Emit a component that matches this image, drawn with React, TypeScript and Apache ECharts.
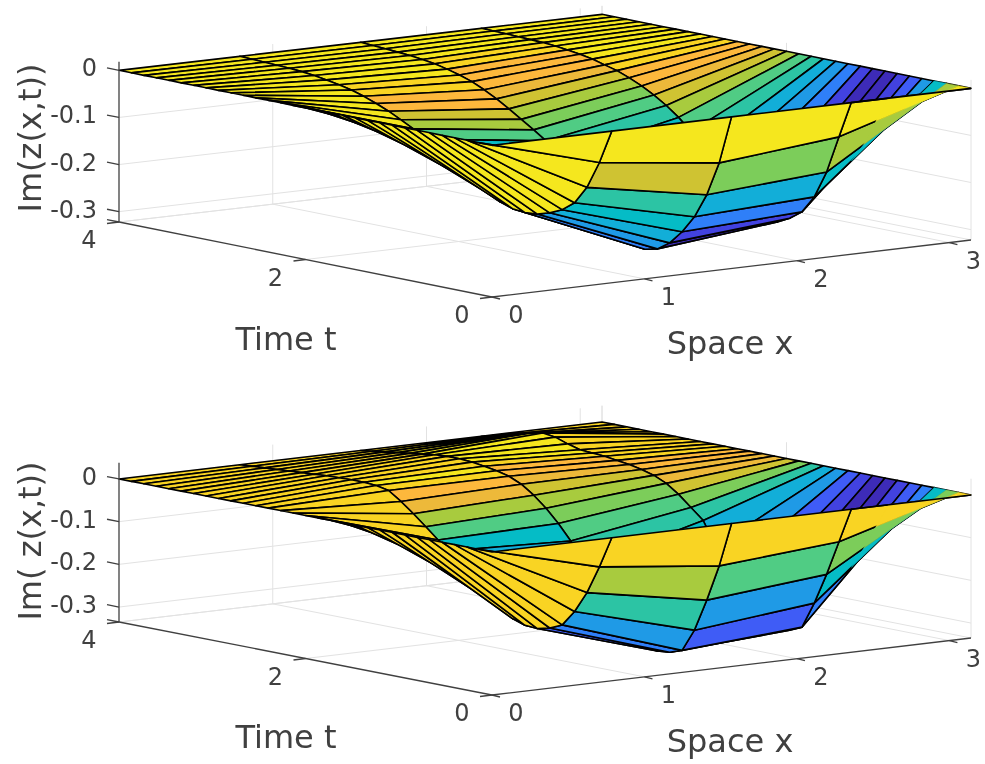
import React, { useEffect, useRef } from "react";
import * as echarts from "echarts";

const PI = Math.PI;
const xNodes = [0, PI / 4, PI / 2, (3 * PI) / 4, PI];
const tNodes = [0, 0.133, 0.267, 0.4, 0.533, 0.667, 0.8, 0.933, 1.067, 1.2, 1.333, 1.467, 1.6, 1.733, 1.867, 2, 2.133, 2.267, 2.4, 2.533, 2.667, 2.8, 2.933, 3.067, 3.2, 3.333, 3.467, 3.6, 3.733, 3.867, 4];
const xTicks = [0, 1, 2, 3];
const tTicks = [0, 2, 4];
const zTicks = [0, -0.1, -0.2, -0.3];
const zeroRow = [0, 0, 0, 0, 0, 0, 0, 0, 0, 0, 0, 0, 0, 0, 0, 0, 0, 0, 0, 0, 0, 0, 0, 0, 0, 0, 0, 0, 0, 0, 0];

const zTop = [
  zeroRow,
  [0, -.072, -.13, -.168, -.188, -.2, -.208, -.21, -.207, -.198, -.185, -.17, -.152, -.133, -.115, -.097, -.08, -.066, -.053, -.042, -.032, -.024, -.018, -.013, -.009, -.006, -.004, -.003, -.002, -.001, 0],
  [0, -.103, -.176, -.228, -.265, -.294, -.312, -.318, -.315, -.305, -.285, -.26, -.23, -.195, -.16, -.13, -.112, -.095, -.078, -.062, -.048, -.036, -.027, -.02, -.014, -.01, -.007, -.005, -.003, -.0015, 0],
  [0, -.078, -.158, -.216, -.253, -.272, -.285, -.283, -.27, -.25, -.22, -.19, -.16, -.13, -.105, -.085, -.068, -.054, -.042, -.032, -.025, -.018, -.013, -.009, -.006, -.004, -.003, -.002, -.001, -.0005, 0],
  zeroRow,
];

const zBottom = [
  zeroRow,
  [0, -.074, -.14, -.19, -.227, -.24, -.247, -.245, -.235, -.215, -.19, -.16, -.13, -.105, -.085, -.06, -.035, -.012, .008, .014, .016, .016, .015, .014, .012, .01, .008, .006, .004, .002, 0],
  [0, -.105, -.191, -.267, -.32, -.33, -.333, -.33, -.32, -.3, -.265, -.225, -.17, -.115, -.08, -.05, -.025, -.005, .008, .015, .02, .024, .026, .026, .024, .02, .016, .012, .008, .004, 0],
  [0, -.082, -.164, -.237, -.299, -.312, -.318, -.31, -.29, -.25, -.2, -.15, -.095, -.07, -.045, -.025, -.012, -.004, .002, .006, .01, .012, .014, .022, .032, .036, .03, .022, .014, .007, 0],
  zeroRow,
];

const parula = ["#3d2bb8", "#4242e0", "#3f5cf6", "#2f7ff8", "#1f9ae6", "#12aed8", "#05bcc6", "#2cc4a4", "#50cc84", "#7ccd5a", "#a8cb3e", "#cfc332", "#edb93a", "#fdb83c", "#f9d423", "#f5e71e"];

const fineTop = [15, 15, 15, 15, 15, 15, 15, 15, 15, 15, 15, 15, 15, 15, 15, 15, 15, 15, 15, 15, 15, 15, 15, 15, 15, 15, 15, 15, 15, 15];
const stripATop = [15, 11, 7, 6, 5, 4, 3, 2, 2, 3, 3, 4, 5, 5, 6, 8, 10, 11, 13, 13, 14, 14, 15, 15, 15, 15, 15, 15, 15, 15];
const stripBTop = [15, 9, 5, 3, 1, 0, 0, 1, 2, 3, 4, 5, 5, 6, 7, 8, 9, 10, 11, 12, 13, 13, 13, 14, 14, 15, 15, 15, 15, 15];
const stripCTop = [15, 10, 6, 4, 2, 1, 0, 0, 1, 3, 4, 5, 7, 8, 10, 11, 12, 13, 13, 14, 14, 15, 15, 15, 15, 15, 15, 15, 15, 15];
const fineBottom = [14, 14, 14, 14, 14, 14, 14, 14, 14, 14, 14, 14, 14, 14, 14, 14, 14, 14, 14, 14, 14, 14, 14, 14, 14, 14, 14, 14, 14, 14];
const stripABottom = [14, 10, 7, 4, 3, 2, 2, 3, 3, 4, 4, 5, 5, 6, 8, 10, 12, 13, 14, 15, 14, 14, 14, 14, 14, 14, 14, 14, 14, 14];
const stripBBottom = [14, 8, 4, 2, 1, 0, 0, 1, 2, 3, 5, 6, 7, 8, 9, 10, 11, 12, 13, 13, 14, 15, 15, 15, 15, 15, 15, 15, 15, 14];
const stripCBottom = [14, 9, 6, 3, 2, 1, 0, 0, 1, 2, 4, 5, 7, 9, 11, 12, 12, 13, 13, 14, 14, 14, 14, 14, 14, 14, 14, 14, 14, 14];

const AXIS = "#404040";
const GRID = "#e2e2e2";
const FONT = '"DejaVu Sans", sans-serif';
const MESH_WIDTH = 1.6;
const WEDGE_START = 0.31;
const WEDGE_ROWS = 3;

type Panel = {
  a: number[]; b: number[]; c: number[]; d: number[];
  zMin: number; zMax: number; scale: number;
  z: number[][]; strips: number[][];
  zLabel: string; dy: number;
};

const panels: Panel[] = [
  { a: [492, 297], b: [971, 240], c: [119, 222], d: [602, 166], zMin: -0.322, zMax: 0.018, scale: 471, z: zTop, strips: [fineTop, stripATop, stripBTop, stripCTop], zLabel: "Im(z(x,t))", dy: 0 },
  { a: [492, 695], b: [971, 638], c: [119, 622], d: [602, 565], zMin: -0.335, zMax: 0.038, scale: 427, z: zBottom, strips: [fineBottom, stripABottom, stripBBottom, stripCBottom], zLabel: "Im( z(x,t))", dy: 398 },
];

const X_MAX = PI;
const T_MAX = 4;

function project(p: Panel, x: number, t: number, z: number) {
  const u = x / X_MAX;
  const v = t / T_MAX;
  const px = (1 - u) * (1 - v) * p.a[0] + u * (1 - v) * p.b[0] + (1 - u) * v * p.c[0] + u * v * p.d[0];
  const py = (1 - u) * (1 - v) * p.a[1] + u * (1 - v) * p.b[1] + (1 - u) * v * p.c[1] + u * v * p.d[1];
  return [px, py - (z - p.zMin) * p.scale];
}

type Seg = { from: number[]; to: number[]; color: string; width: number; offset?: number[] };

function gridSegments(p: Panel): Seg[] {
  const s: Seg[] = [];
  const add = (from: number[], to: number[]) => s.push({ from, to, color: GRID, width: 1 });
  for (const x of xTicks.slice(1)) {
    add([x, 0, p.zMin], [x, T_MAX, p.zMin]);
    add([x, T_MAX, p.zMin], [x, T_MAX, p.zMax]);
  }
  for (const t of tTicks.slice(1)) {
    add([0, t, p.zMin], [X_MAX, t, p.zMin]);
    add([X_MAX, t, p.zMin], [X_MAX, t, p.zMax]);
  }
  add([X_MAX, 0, p.zMin], [X_MAX, 0, p.zMax]);
  add([X_MAX, T_MAX, p.zMin], [X_MAX, T_MAX, p.zMax]);
  add([0, T_MAX, p.zMin], [X_MAX, T_MAX, p.zMin]);
  add([X_MAX, T_MAX, p.zMin], [X_MAX, 0, p.zMin]);
  for (const z of zTicks) {
    add([0, T_MAX, z], [X_MAX, T_MAX, z]);
    add([X_MAX, T_MAX, z], [X_MAX, 0, z]);
  }
  return s;
}

function axisSegments(p: Panel): Seg[] {
  const s: Seg[] = [];
  const add = (from: number[], to: number[], offset?: number[]) => s.push({ from, to, color: AXIS, width: 1.3, offset });
  add([0, 0, p.zMin], [X_MAX, 0, p.zMin]);
  add([0, 0, p.zMin], [0, T_MAX, p.zMin]);
  add([0, T_MAX, p.zMin], [0, T_MAX, p.zMax]);
  for (const x of xTicks) add([x, 0, p.zMin], [x, 0, p.zMin], [8, 2]);
  for (const t of tTicks) add([0, t, p.zMin], [0, t, p.zMin], [-12, 1.5]);
  for (const z of zTicks) add([0, T_MAX, z], [0, T_MAX, z], [-12, -2.4]);
  add([0, T_MAX, p.zMin], [0, T_MAX, p.zMin], [-12, -2.4]);
  return s;
}

type Label = { text: string; pos: number[]; size: number; align: "center" | "right"; rotate?: boolean };

function labels(p: Panel): Label[] {
  const out: Label[] = [];
  for (const x of xTicks) {
    const q = project(p, x, 0, p.zMin);
    out.push({ text: String(x), pos: [q[0] + 24, q[1] + 18], size: 24, align: "center" });
  }
  for (const t of tTicks) {
    const q = project(p, 0, t, p.zMin);
    out.push({ text: String(t), pos: [q[0] - 30, q[1] + 18], size: 24, align: "center" });
  }
  for (const z of zTicks) {
    const q = project(p, 0, T_MAX, z);
    out.push({ text: String(z), pos: [q[0] - 22, q[1] - 2], size: 24, align: "right" });
  }
  out.push({ text: "Time t", pos: [286, 339 + p.dy], size: 32, align: "center" });
  out.push({ text: "Space x", pos: [730, 343 + p.dy], size: 32, align: "center" });
  out.push({ text: p.zLabel, pos: [30, 138 + p.dy + (p.dy ? 5 : 0)], size: 32, align: "center", rotate: true });
  return out;
}

function surfaceCells() {
  const cells: number[][] = [];
  for (let i = xNodes.length - 2; i >= 0; i--) {
    for (let j = tNodes.length - 2; j >= 0; j--) cells.push([i, j]);
  }
  return cells;
}

function surfaceSeries(p: Panel) {
  return {
    type: "custom",
    coordinateSystem: "cartesian2d",
    silent: true,
    clip: false,
    progressive: 0,
    z: 3,
    encode: { x: 0, y: 1 },
    data: surfaceCells(),
    renderItem: (_: any, api: any) => {
      const i = api.value(0);
      const j = api.value(1);
      const corners = [[i, j], [i + 1, j], [i + 1, j + 1], [i, j + 1]];
      const points = corners.map(([a, b]) => api.coord(project(p, xNodes[a], tNodes[b], p.z[a][b])));
      return {
        type: "polygon",
        shape: { points },
        style: { fill: parula[p.strips[i][j]], stroke: "#000", lineWidth: MESH_WIDTH, lineJoin: "round" },
      };
    },
  };
}

// The lower rows of the last strip show their fill right up to the corner, with no mesh line.
function wedgeSeries(p: Panel) {
  const last = xNodes.length - 1;
  const along = (j: number, f: number) => {
    const a = project(p, xNodes[last - 1], tNodes[j], p.z[last - 1][j]);
    const b = project(p, xNodes[last], tNodes[j], p.z[last][j]);
    return [a[0] + (b[0] - a[0]) * f, a[1] + (b[1] - a[1]) * f];
  };
  const rows: number[][] = [];
  for (let j = WEDGE_ROWS - 1; j >= 0; j--) rows.push([j, 0]);
  return {
    type: "custom",
    coordinateSystem: "cartesian2d",
    silent: true,
    clip: false,
    progressive: 0,
    z: 3.5,
    encode: { x: 0, y: 1 },
    data: rows,
    renderItem: (_: any, api: any) => {
      const j = api.value(0);
      const points = [along(j, WEDGE_START), along(j, 1), along(j + 1, 1), along(j + 1, WEDGE_START)].map((q) => api.coord(q));
      const colour = parula[p.strips[last - 1][j]];
      return {
        type: "polygon",
        shape: { points },
        style: { fill: colour, stroke: colour, lineWidth: 0.5 },
      };
    },
  };
}

function topEdgeSeries(p: Panel) {
  const segs: Seg[] = [{ from: [xNodes[3], 0, 0], to: [xNodes[4], 0, 0], color: "#000", width: MESH_WIDTH }];
  return segmentSeries(p, segs, 3.6);
}

function segmentSeries(p: Panel, segs: Seg[], z: number) {
  return {
    type: "custom",
    coordinateSystem: "cartesian2d",
    silent: true,
    clip: false,
    progressive: 0,
    z,
    encode: { x: 0, y: 1 },
    data: segs.map((_, k) => [k, 0]),
    renderItem: (_: any, api: any) => {
      const s = segs[api.value(0)];
      const f = project(p, s.from[0], s.from[1], s.from[2]);
      const t = project(p, s.to[0], s.to[1], s.to[2]);
      if (s.offset) { t[0] += s.offset[0]; t[1] += s.offset[1]; }
      const a = api.coord(f);
      const b = api.coord(t);
      return {
        type: "line",
        shape: { x1: a[0], y1: a[1], x2: b[0], y2: b[1] },
        style: { stroke: s.color, lineWidth: s.width },
      };
    },
  };
}

function labelSeries(p: Panel) {
  const ls = labels(p);
  return {
    type: "custom",
    coordinateSystem: "cartesian2d",
    silent: true,
    clip: false,
    progressive: 0,
    z: 5,
    encode: { x: 0, y: 1 },
    data: ls.map((_, k) => [k, 0]),
    renderItem: (_: any, api: any) => {
      const l = ls[api.value(0)];
      const q = api.coord(l.pos);
      return {
        type: "text",
        x: q[0],
        y: q[1],
        rotation: l.rotate ? PI / 2 : 0,
        style: {
          text: l.text,
          x: 0,
          y: 0,
          align: l.align,
          verticalAlign: "middle",
          fill: AXIS,
          font: `${l.size}px ${FONT}`,
        },
      };
    },
  };
}

export default function App() {
  const ref = useRef<HTMLDivElement>(null);
  useEffect(() => {
    const chart = echarts.init(ref.current!, undefined, { renderer: "svg" });
    const series: any[] = [];
    for (const p of panels) {
      series.push(segmentSeries(p, gridSegments(p), 1));
      series.push(surfaceSeries(p));
      series.push(wedgeSeries(p));
      series.push(topEdgeSeries(p));
      series.push(segmentSeries(p, axisSegments(p), 4));
      series.push(labelSeries(p));
    }
    chart.setOption({
      animation: false,
      backgroundColor: "#ffffff",
      grid: { left: 0, right: 0, top: 0, bottom: 0 },
      xAxis: { type: "value", min: 0, max: 985, show: false },
      yAxis: { type: "value", min: 0, max: 764, inverse: true, show: false },
      series,
    });
    return () => chart.dispose();
  }, []);
  return <div ref={ref} style={{ position: "absolute", left: 0, top: 0, width: 985, height: 764, filter: "blur(0.4px)" }} />;
}
